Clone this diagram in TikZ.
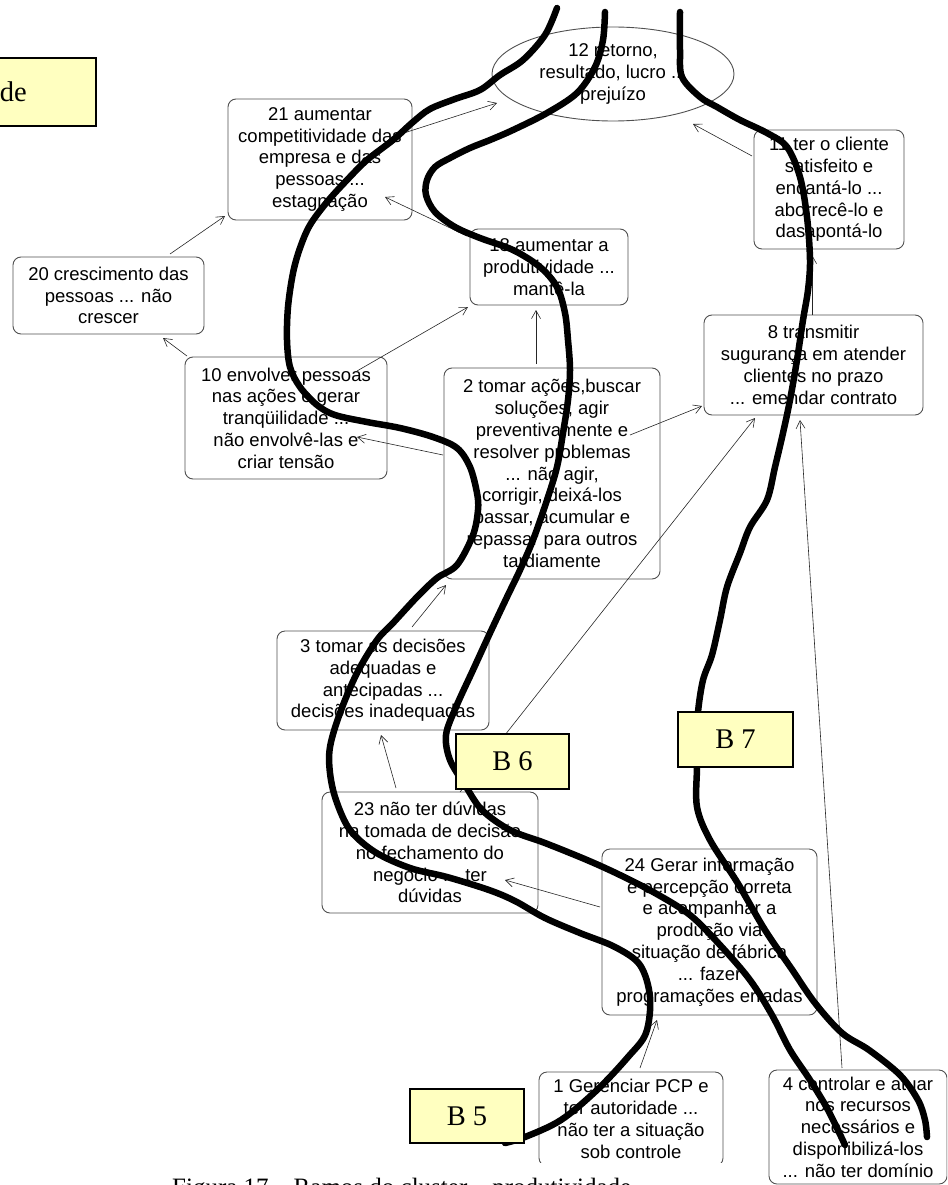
\documentclass[tikz,border=0pt]{standalone}
\usepackage{fontspec}
\setmainfont{Liberation Serif}
\newfontfamily\boxfont{Liberation Sans}
\usetikzlibrary{arrows.meta,shapes.geometric}
\definecolor{notefill}{RGB}{255,255,192}
\definecolor{boxline}{RGB}{80,80,80}

\begin{document}
\begin{tikzpicture}[x=1pt,y=-1pt,
  concept/.style={draw=boxline, line width=0.9pt, rounded corners=8pt, fill=white,
    align=center, inner sep=0pt, font=\boxfont\fontsize{18.5}{21.8}\selectfont},
  goal/.style={ellipse, draw=boxline, line width=0.9pt, inner sep=0pt, align=center,
    font=\boxfont\fontsize{18.5}{21.8}\selectfont},
  branch/.style={draw=black, line width=1.5pt, fill=notefill, inner sep=0pt,
    font=\fontsize{28.5}{30}\selectfont},
  link/.style={draw=black!85, line width=0.6pt, -{Straight Barb[length=8pt,width=9pt]}},
  stroke/.style={line width=6.5pt, line cap=round, line join=round}
]
\useasboundingbox (0,0) rectangle (947,1185);
\clip (0,0) rectangle (947,1185);

% concept boxes
\node[goal, minimum width=242pt, minimum height=94pt] (n12) at (613,74)
  {12 retorno,\\resultado, lucro ...\\prejuízo};
\node[concept, minimum width=184pt, minimum height=121pt] (n21) at (320,159.5)
  {21 aumentar\\competitividade das\\empresa e das\\pessoas ...\\estagnação};
\node[concept, minimum width=150pt, minimum height=119pt] (n11) at (829,189.5)
  {11 ter o cliente\\satisfeito e\\encantá-lo ...\\aborrecê-lo e\\dasapontá-lo};
\node[concept, minimum width=158pt, minimum height=76pt] (n18) at (549,267)
  {18 aumentar a\\produtividade ...\\mantê-la};
\node[concept, minimum width=191pt, minimum height=77pt] (n20) at (108.5,295.5)
  {20 crescimento das\\pessoas ... não\\crescer};
\node[concept, minimum width=202pt, minimum height=122pt] (n10) at (286,418)
  {10 envolver pessoas\\nas ações e gerar\\tranqüilidade ...\\não envolvê-las e\\criar tensão};
\node[concept, minimum width=216pt, minimum height=211pt] (n2) at (552,473.5)
  {2 tomar ações,buscar\\soluções, agir\\preventivamente e\\resolver problemas\\... não agir,\\corrigir, deixá-los\\passar, acumular e\\repassar para outros\\tardiamente};
\node[concept, minimum width=219pt, minimum height=100pt] (n8) at (813.5,365)
  {8 transmitir\\sugurança em atender\\clientes no prazo\\... emendar contrato};
\node[concept, minimum width=212pt, minimum height=99pt] (n3) at (383,680.5)
  {3 tomar as decisões\\adequadas e\\antecipadas ...\\decisões inadequadas};
\node[concept, minimum width=216pt, minimum height=121pt] (n23) at (430,852.5)
  {23 não ter dúvidas\\na tomada de decisão\\no fechamento do\\negócio ... ter\\dúvidas};
\node[concept, minimum width=215pt, minimum height=166pt] (n24) at (709.5,932)
  {24 Gerar informação\\e percepção correta\\e acompanhar a\\produção via\\situação de fábrica\\... fazer\\programações erradas};
\node[concept, minimum width=184pt, minimum height=94pt] (n1) at (631,1119)
  {1 Gerenciar PCP e\\ter autoridade ...\\não ter a situação\\sob controle};
\node[concept, minimum width=178pt, minimum height=114pt] (n4) at (858,1127)
  {4 controlar e atuar\\nos recursos\\necessários e\\disponibilizá-los\\... não ter domínio};
% lower edge of box 1 is hidden
\fill[white] (530,1163) rectangle (735,1172);

% links between concepts
\draw[link] ([shift={(70,-22)}]n21.center) -- ([shift={(-116,29)}]n12.center);
\draw[link] ([shift={(-77,-33.5)}]n11.center) -- ([shift={(80,50)}]n12.center);
\draw[link] ([shift={(-82,-31)}]n18.center) -- ([shift={(65,37.5)}]n21.center);
\draw[link] ([shift={(61.5,-41.5)}]n20.center) -- ([shift={(-95,56.5)}]n21.center);
\draw[link] ([shift={(-99,-62)}]n10.center) -- ([shift={(54.5,42.5)}]n20.center);
\draw[link] ([shift={(71,-47)}]n10.center) -- ([shift={(-81,40)}]n18.center);
\draw[link] ([shift={(-16,-109.5)}]n2.center) -- ([shift={(-13,43)}]n18.center);
\draw[link] ([shift={(-109,-18.5)}]n2.center) -- ([shift={(71,19)}]n10.center);
\draw[link] ([shift={(78,-38.5)}]n2.center) -- ([shift={(-111.5,41)}]n8.center);
\draw[link] ([shift={(29,-53.5)}]n3.center) -- ([shift={(-106,111.5)}]n2.center);
\draw[link] ([shift={(-34,-64.5)}]n23.center) -- ([shift={(-2,54.5)}]n3.center);
\draw[link] ([shift={(30,-60.5)}]n23.center) -- ([shift={(-58.5,53)}]n8.center);
\draw[link] ([shift={(-109.5,-25)}]n24.center) -- ([shift={(75,27.5)}]n23.center);
\draw[link] ([shift={(9,-51)}]n1.center) -- ([shift={(-52.5,88)}]n24.center);
\draw[link] ([shift={(-16,-59)}]n4.center) -- ([shift={(-13.5,55)}]n8.center);
\draw[link] ([shift={(-1.5,-50)}]n8.center) -- ([shift={(-17,65.5)}]n11.center);

% hand-drawn branch strokes
\draw[stroke] plot[smooth, tension=0.55] coordinates {
  (557,8) (545,35) (523,60) (500,75) (480,90) (455,99) (430,109) (413,122)
  (393,140) (367,160) (347,180) (327,202) (310,225) (300,248) (293,273)
  (288,307) (287,340) (290,367) (300,387) (317,405) (335,415) (367,422)
  (400,428) (433,437) (457,448) (470,467) (477,493) (478,510) (473,535)
  (457,565) (437,578) (417,597) (393,623) (377,640) (357,673) (340,713)
  (330,747) (330,773) (336,800) (350,830) (375,852) (410,868) (447,877)
  (489,890) (515,901) (545,918) (580,933) (615,947) (640,965) (650,997)
  (646,1033) (628,1057) (597,1090) (561,1120) (525,1137) (505,1143)};
\draw[stroke] plot[smooth, tension=0.55] coordinates {
  (605,12) (603,40) (595,67) (577,93) (547,113) (513,130) (490,140) (470,148)
  (450,158) (435,167) (427,180) (426,195) (435,212) (455,227) (480,238)
  (513,250) (540,267) (557,287) (565,313) (568,340) (570,370) (568,400)
  (563,433) (557,467) (547,500) (533,540) (520,570) (507,597) (490,633)
  (473,670) (456,707) (446,735) (450,760) (465,785) (482,810) (510,830)
  (545,843) (587,860) (620,875) (655,893) (690,915) (720,945) (750,980)
  (772,1015) (790,1050) (810,1080) (828,1110) (845,1145)};
\draw[stroke] plot[smooth, tension=0.55] coordinates {
  (680,12) (680,50) (682,77) (700,97) (717,107) (740,120) (767,133) (787,147)
  (800,177) (807,217) (810,260) (808,290) (803,320) (797,360) (790,400)
  (783,433) (775,467) (767,500) (750,527) (740,553) (727,587) (720,620)
  (712,655) (703,680) (698,712) (697,740) (697,767) (697,807) (710,840)
  (737,882) (765,930) (791,968) (815,1003) (842,1033) (869,1050) (900,1075)
  (918,1100) (925,1120) (927,1137)};

% branch labels
\node[branch, minimum width=196pt, minimum height=68pt, text width=180pt,
  align=left, inner xsep=8pt] (ttl) at (-2,92) {\hspace*{92pt}de};
\node[branch, minimum width=113pt, minimum height=55pt] (b6) at (512.5,761.5) {B 6};
\node[branch, minimum width=115pt, minimum height=55pt] (b7) at (735.5,739.5) {B 7};
\node[branch, minimum width=114pt, minimum height=54pt] (b5) at (467,1116) {B 5};

% caption
\node[anchor=base west, inner sep=0pt, font=\fontsize{25}{29}\selectfont] (cap)
  at (172,1195) {Figura 17 – Ramos do cluster – produtividade};
\end{tikzpicture}
\end{document}
